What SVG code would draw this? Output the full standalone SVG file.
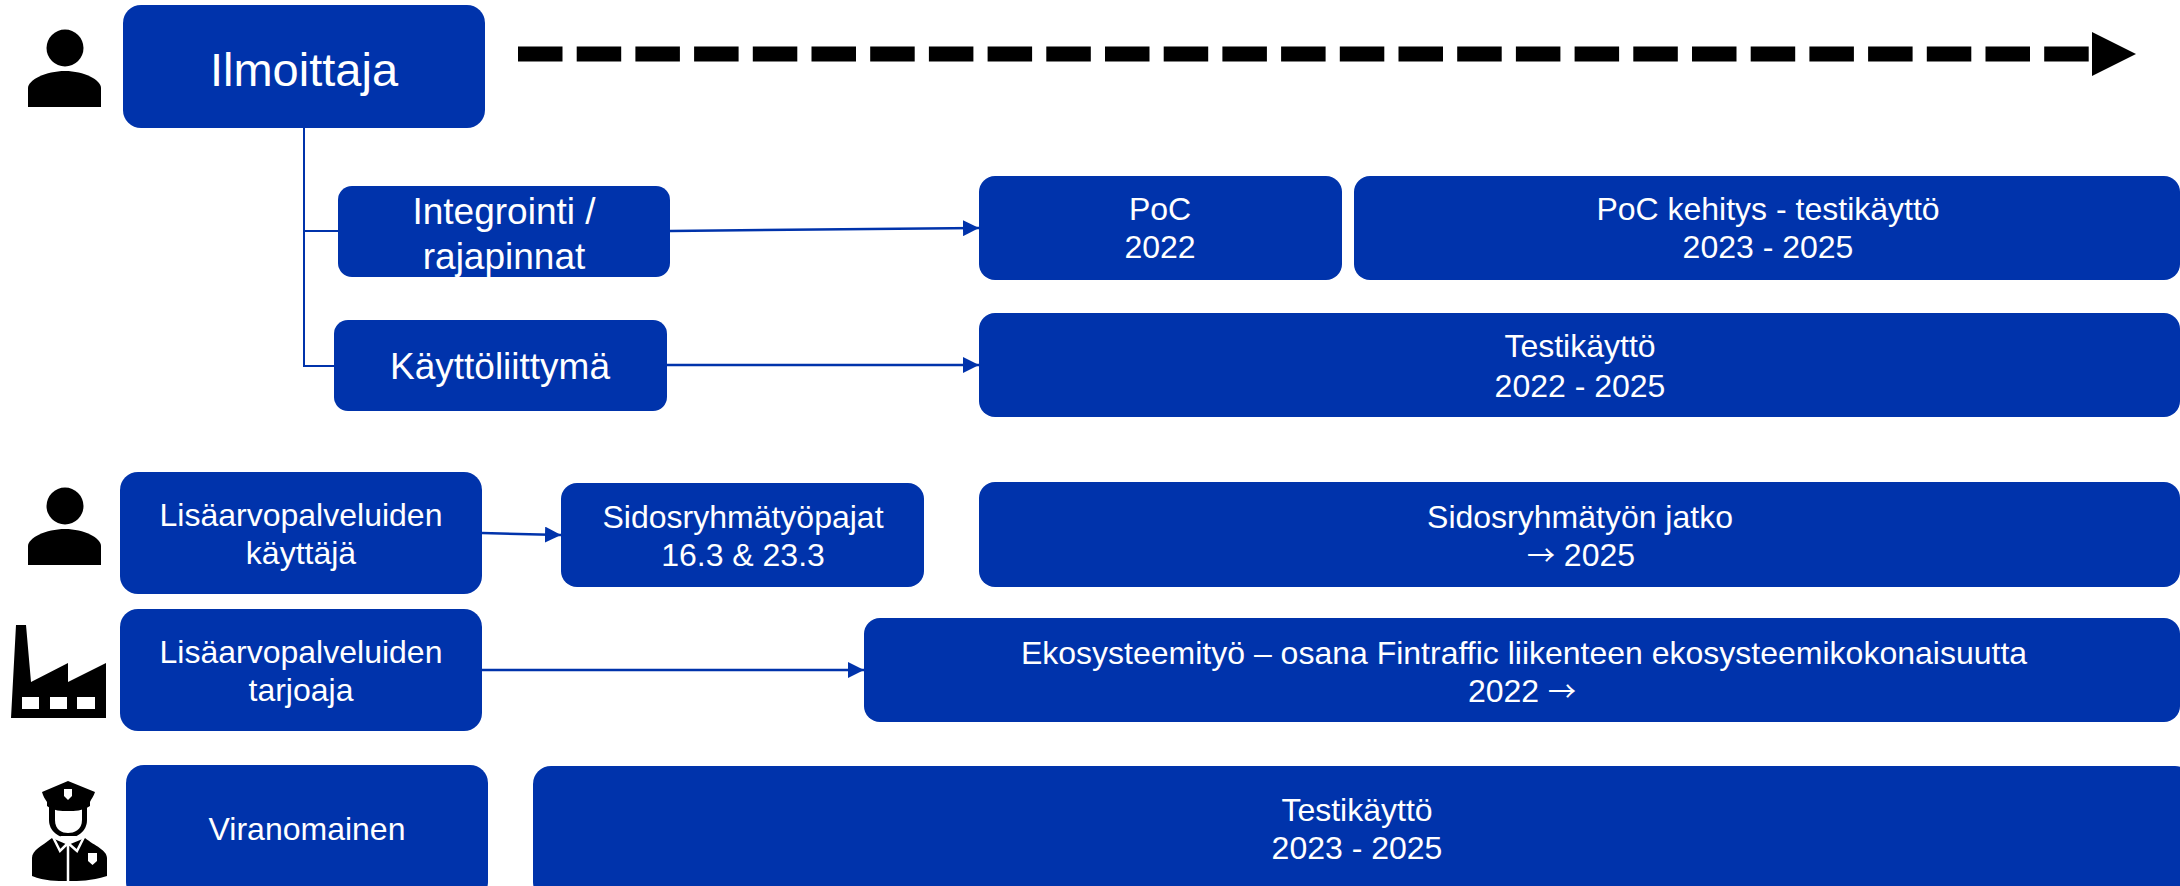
<svg xmlns="http://www.w3.org/2000/svg" width="2180" height="886" viewBox="0 0 2180 886">
<style>
.b{fill:#0033AB}
text{font-family:"Liberation Sans",Arial,sans-serif;fill:#fff;text-anchor:middle;font-size:32px}
.w{font-family:"Noto Sans CJK JP",sans-serif;font-size:28px}
.c{fill:none;stroke:#0033AB;stroke-width:2}
.d{fill:none;stroke:#0033AB;stroke-width:2.500}
.i{fill:#000}
.l{fill:none;stroke:#fff;stroke-width:2.500}
</style>
<defs>
<marker id="a" markerUnits="userSpaceOnUse" markerWidth="17" markerHeight="16" refX="16" refY="8" orient="auto"><path d="M0 0L16 8L0 16Z" fill="#0033AB"/></marker>
<g id="person"><ellipse cx="65" cy="48" rx="18.500" ry="18.500"/><path d="M28 107V88C28 80 46 71 65 71S101 80 101 88V107Z"/></g>
</defs>
<rect width="2180" height="886" fill="#fff"/>
<g id="connectors">
<path class="c" d="M304 128V366H334"/>
<path class="c" d="M304 231H338"/>
<path class="d" d="M670 231L979 228" marker-end="url(#a)"/>
<path class="d" d="M667 365H979" marker-end="url(#a)"/>
<path class="d" d="M482 533L561 535" marker-end="url(#a)"/>
<path class="d" d="M482 670H864" marker-end="url(#a)"/>
<path d="M518 54H2092" fill="none" stroke="#000" stroke-width="15" stroke-dasharray="44.500 14.200"/>
<path d="M2092 32L2136 54L2092 76Z" class="i"/>
</g>
<g id="icon-ilmoittaja" class="i"><use href="#person"/></g>
<g id="icon-kayttaja" class="i"><use href="#person" y="458"/></g>
<g id="icon-tarjoaja" class="i"><path d="M11 718L16 625H26L31 682L68 663V682L106 663V718Z"/><path d="M22 697H39V709H22ZM50 697H67V709H50ZM77 697H95V709H77Z" fill="#fff"/></g>
<g id="icon-viranomainen" class="i">
<path d="M49 805V820C49 832 60 838 68 838S87 832 87 820V805Z"/>
<path d="M55 808V820C55 830 62 833 68 833S82 830 82 820V808Z" fill="#fff"/>
<path d="M68 781L95 792C94 796 91 799 90 802V806C82 811 75 811 68 811S54 811 47 806V802C45 799 43 796 42 792Z"/>
<path d="M64 789H72V796L68 800L64 796Z" fill="#fff"/>
<path d="M32 876V858C32 850 42 846 52 838L68 845L85 838C95 846 107 850 107 858V876C90 881 80 881 68 881S45 881 32 876Z"/>
<path d="M60 836H77L68 844Z" fill="#fff"/>
<path class="l" d="M52 835L60 851L68 843L77 851L85 835M68 843V881"/>
<path d="M88 853H97V861L92.500 865L88 861Z" fill="#fff"/>
</g>
<g id="ilmoittaja"><rect class="b" x="123" y="5" width="362" height="123" rx="18"/><text x="304" y="86" style="font-size:47px">Ilmoittaja</text></g>
<g id="integrointi"><rect class="b" x="338" y="186" width="332" height="91" rx="14"/><text x="504" y="224" style="font-size:37px">Integrointi /</text><text x="504" y="269" style="font-size:37px">rajapinnat</text></g>
<g id="kayttoliittyma"><rect class="b" x="334" y="320" width="333" height="91" rx="14"/><text x="500" y="379" style="font-size:37px">Käyttöliittymä</text></g>
<g id="poc"><rect class="b" x="979" y="176" width="363" height="104" rx="16"/><text x="1160" y="220">PoC</text><text x="1160" y="258">2022</text></g>
<g id="poc-kehitys"><rect class="b" x="1354" y="176" width="826" height="104" rx="16"/><text x="1768" y="220">PoC kehitys - testikäyttö</text><text x="1768" y="258">2023 - 2025</text></g>
<g id="testikaytto-1"><rect class="b" x="979" y="313" width="1201" height="104" rx="16"/><text x="1580" y="357">Testikäyttö</text><text x="1580" y="397">2022 - 2025</text></g>
<g id="lisa-kayttaja"><rect class="b" x="120" y="472" width="362" height="122" rx="18"/><text x="301" y="526">Lisäarvopalveluiden</text><text x="301" y="564">käyttäjä</text></g>
<g id="sidos"><rect class="b" x="561" y="483" width="363" height="104" rx="16"/><text x="743" y="528">Sidosryhmätyöpajat</text><text x="743" y="566">16.3 &amp; 23.3</text></g>
<g id="sidos-jatko"><rect class="b" x="979" y="482" width="1201" height="105" rx="16"/><text x="1580" y="528">Sidosryhmätyön jatko</text><text x="1581" y="566"><tspan class="w">→</tspan> 2025</text></g>
<g id="lisa-tarjoaja"><rect class="b" x="120" y="609" width="362" height="122" rx="18"/><text x="301" y="663">Lisäarvopalveluiden</text><text x="301" y="701">tarjoaja</text></g>
<g id="ekosysteemi"><rect class="b" x="864" y="618" width="1316" height="104" rx="16"/><text x="1524" y="664">Ekosysteemityö – osana Fintraffic liikenteen ekosysteemikokonaisuutta</text><text x="1522" y="702">2022 <tspan class="w">→</tspan></text></g>
<g id="viranomainen"><rect class="b" x="126" y="765" width="362" height="135" rx="18"/><text x="307" y="840">Viranomainen</text></g>
<g id="testikaytto-2"><rect class="b" x="533" y="766" width="1660" height="134" rx="18"/><text x="1357" y="821">Testikäyttö</text><text x="1357" y="859">2023 - 2025</text></g>
</svg>
